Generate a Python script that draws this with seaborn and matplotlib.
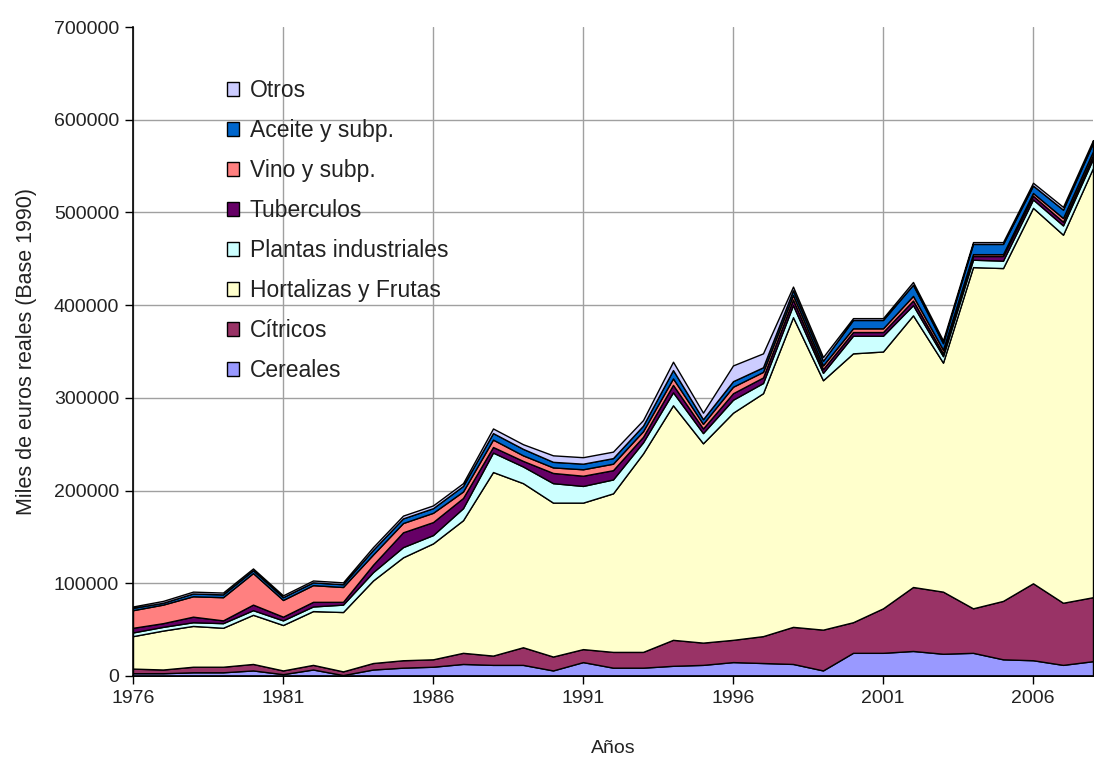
import numpy as np
import pandas as pd
import matplotlib
matplotlib.use("Agg")
import matplotlib.pyplot as plt
from matplotlib.patches import Patch
import seaborn as sns

years = list(range(1976, 2009))

cereales = [3000, 3000, 4000, 4000, 6000, 2000, 7000, 1000, 7000, 9000,
            10000, 13000, 12000, 12000, 6000, 15000, 9000, 9000, 11000, 12000,
            15000, 14000, 13000, 6000, 25000, 25000, 27000, 24000, 25000, 18000,
            17000, 12000, 16000]
citricos = [5000, 4000, 6000, 6000, 7000, 4000, 5000, 4000, 7000, 8000,
            8000, 12000, 10000, 19000, 15000, 14000, 17000, 17000, 28000, 24000,
            24000, 29000, 40000, 44000, 33000, 48000, 69000, 67000, 48000, 63000,
            83000, 67000, 69000]
hortalizas = [35000, 42000, 44000, 42000, 53000, 49000, 58000, 64000, 89000, 111000,
              125000, 143000, 198000, 177000, 166000, 158000, 171000, 214000, 253000, 215000,
              245000, 262000, 334000, 269000, 290000, 277000, 293000, 247000, 368000, 359000,
              405000, 397000, 463000]
plantas = [4000, 4000, 4000, 5000, 5000, 5000, 5000, 8000, 9000, 11000,
           9000, 13000, 21000, 18000, 21000, 18000, 15000, 12000, 14000, 11000,
           14000, 11000, 13000, 8000, 19000, 17000, 11000, 7000, 8000, 8000,
           9000, 10000, 10000]
tuberculos = [5000, 4000, 6000, 3000, 6000, 4000, 5000, 3000, 8000, 16000,
              14000, 11000, 6000, 6000, 11000, 11000, 10000, 6000, 8000, 5000,
              7000, 6000, 6000, 4000, 4000, 4000, 5000, 3000, 4000, 5000,
              4000, 4000, 4000]
vino = [19000, 20000, 22000, 25000, 34000, 18000, 18000, 16000, 11000, 10000,
        10000, 7000, 8000, 6000, 6000, 7000, 7000, 6000, 7000, 5000,
        7000, 6000, 5000, 4000, 4000, 4000, 5000, 4000, 2000, 2000,
        3000, 4000, 4000]
aceite = [2500, 2000, 3000, 3000, 3000, 3000, 3000, 3000, 5000, 5000,
          5000, 6000, 7000, 7000, 6000, 6000, 6000, 6000, 9000, 5000,
          6000, 5000, 5000, 5000, 9000, 9000, 12000, 7000, 11000, 11000,
          8000, 9000, 9000]
otros = [1500, 2000, 2000, 2000, 2000, 2000, 2000, 2000, 3000, 3000,
         3000, 3000, 5000, 5000, 7000, 7000, 7000, 6000, 9000, 7000,
         17000, 15000, 4000, 4000, 2000, 2000, 3000, 3000, 2000, 2000,
         3000, 3000, 3000]

series_names = ["Cereales", "Cítricos", "Hortalizas y Frutas", "Plantas industriales",
                "Tuberculos", "Vino y subp.", "Aceite y subp.", "Otros"]
colors = ["#9999FF", "#993366", "#FFFFCC", "#CCFFFF",
          "#660066", "#FF8080", "#0066CC", "#CCCCFF"]

xticks = [1976, 1981, 1986, 1991, 1996, 2001, 2006]
yticks = [0, 100000, 200000, 300000, 400000, 500000, 600000, 700000]

df = pd.DataFrame({"Año": years, "Cereales": cereales, "Cítricos": citricos,
                   "Hortalizas y Frutas": hortalizas, "Plantas industriales": plantas,
                   "Tuberculos": tuberculos, "Vino y subp.": vino,
                   "Aceite y subp.": aceite, "Otros": otros})

sns.set_theme(style="white")
plt.rcParams["font.family"] = ["Liberation Sans", "DejaVu Sans"]

fig = plt.figure(figsize=(10.94, 7.57), dpi=100)
ax = fig.add_axes([133/1094, 1 - 676/757, 960/1094, 649/757])

ax.stackplot(df["Año"], *[df[n] for n in series_names], colors=colors,
             edgecolor="black", linewidth=1.0, zorder=3)

ax.set_xlim(1976, 2008)
ax.set_ylim(0, 700000)
ax.set_xticks(xticks)
ax.set_xticklabels([str(t) for t in xticks])
ax.set_yticks(yticks)
ax.set_yticklabels([str(t) for t in yticks])
ax.grid(True, color="#a0a0a0", linewidth=1.0, zorder=0)
ax.set_axisbelow(True)
ax.yaxis.get_gridlines()[-1].set_visible(False)

for s in ["top", "right"]:
    ax.spines[s].set_visible(False)
for s in ["left", "bottom"]:
    ax.spines[s].set_color("black")
    ax.spines[s].set_linewidth(1.2)
    ax.spines[s].set_zorder(5)

ax.tick_params(axis="both", which="major", direction="out", length=6, width=1,
               color="black", labelsize=14, labelcolor="#222222", pad=4,
               bottom=True, left=True)

ax.set_xlabel("Años", fontsize=14, color="#222222", labelpad=24)
ax.set_ylabel("Miles de euros reales (Base 1990)", fontsize=15.5, color="#222222", labelpad=12)

handles = [Patch(facecolor=c, edgecolor="black", linewidth=1.0) for c in colors]
leg = ax.legend(handles[::-1], series_names[::-1], loc="upper left",
                bbox_to_anchor=(0.088, 0.934), frameon=False, fontsize=16.5,
                handlelength=0.55, handleheight=0.55, handletextpad=0.45,
                labelspacing=0.74, borderaxespad=0)
for t in leg.get_texts():
    t.set_color("#222222")

fig.savefig("out.png", dpi=100)
